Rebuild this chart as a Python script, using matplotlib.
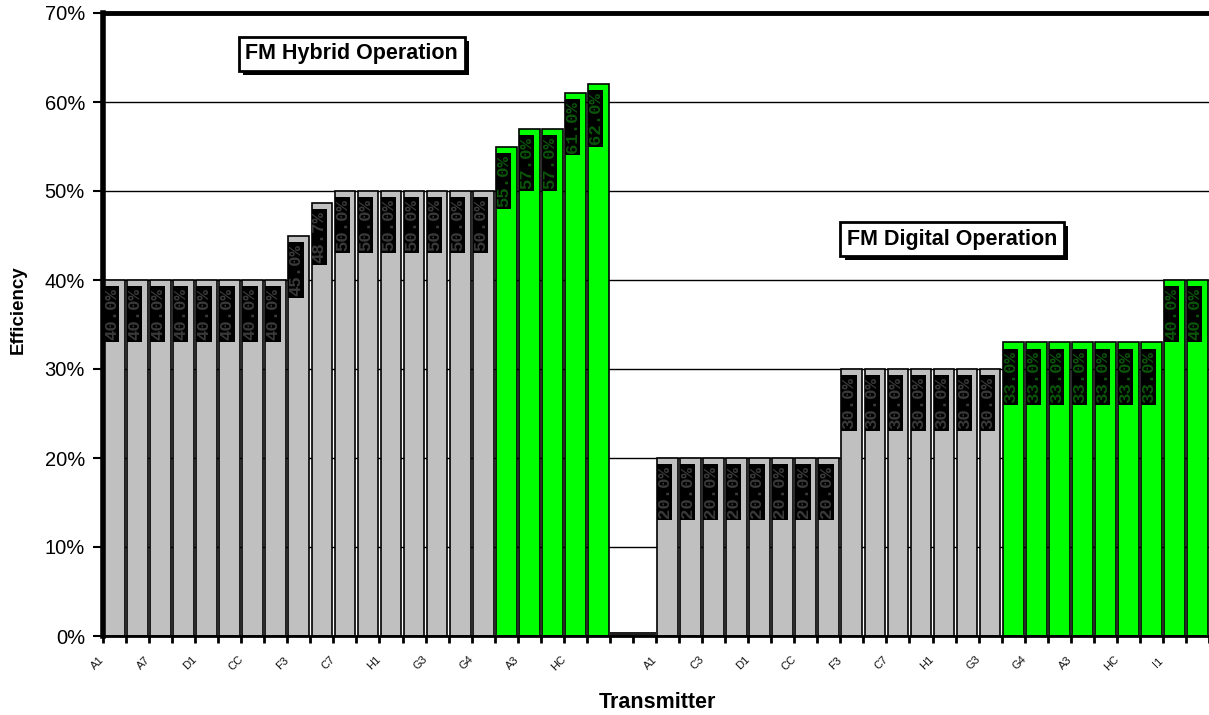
import numpy as np
import matplotlib
matplotlib.use("Agg")
import matplotlib.pyplot as plt
import matplotlib.patheffects as pe

plt.rcParams['font.family'] = ['Liberation Sans', 'DejaVu Sans']

# efficiency (%) per transmitter, FM hybrid operation
hybrid_gray = [40, 40, 40, 40, 40, 40, 40, 40, 45, 48.7, 50, 50, 50, 50, 50, 50, 50]
hybrid_green = [55, 57, 57, 61, 62]
# empty separator between the two groups
gap = [0.5, 0.5]
# FM digital operation
digital_gray = [20, 20, 20, 20, 20, 20, 20, 20, 30, 30, 30, 30, 30, 30, 30]
digital_green = [33, 33, 33, 33, 33, 33, 33, 40, 40]

hybrid_labels = ["A1", "A7", "D1", "CC", "F3", "C7", "H1", "G3", "G4", "A3", "HC"]
digital_labels = ["A1", "C3", "D1", "CC", "F3", "C7", "H1", "G3", "G4", "A3", "HC", "I1"]

GRAY, GREEN = "#C0C0C0", "#00FF00"

values = hybrid_gray + hybrid_green + gap + digital_gray + digital_green
colors = ([GRAY] * len(hybrid_gray) + [GREEN] * len(hybrid_green) + [None] * len(gap)
          + [GRAY] * len(digital_gray) + [GREEN] * len(digital_green))
x = np.arange(len(values))
n_hyb = len(hybrid_gray) + len(hybrid_green)
gap_x = x[n_hyb:n_hyb + len(gap)]
bar_x = np.array([i for i in x if colors[i] is not None])
bar_v = np.array([values[i] for i in bar_x])
bar_c = [colors[i] for i in bar_x]

fig, ax = plt.subplots(figsize=(12.09, 7.15), dpi=100)
fig.subplots_adjust(left=103 / 1209, right=1.0, bottom=79 / 715, top=1 - 13 / 715)

ax.bar(bar_x, bar_v, width=0.9, color=bar_c, edgecolor="black", linewidth=1.2, zorder=2)
ax.bar(gap_x, [values[i] for i in gap_x], width=1.0, color="#202020", zorder=2)

# black data label boxes near top of each bar
ax.bar(bar_x - 0.12, 6.3, bottom=bar_v - 7.0, width=0.66, color="black", zorder=3)
for xi, v, c in zip(bar_x, bar_v, bar_c):
    tc = "#3a3a3a" if c == GRAY else "#0b560b"
    ax.text(xi - 0.12, v - 3.85, f"{v:.1f}%", rotation=90, ha="center", va="center",
            fontsize=12.5, family="Liberation Mono", weight="bold", color=tc, zorder=4)

ax.set_xlim(-0.5, len(values) - 0.5)
ax.set_ylim(0, 70)
ax.set_yticks(range(0, 71, 10))
ax.set_yticklabels([f"{t}%" for t in range(0, 71, 10)])
ax.yaxis.grid(True, color="black", linewidth=1)
ax.set_axisbelow(True)
ax.set_xticks(np.arange(-0.5, len(values), 1))
ax.set_xticklabels([])
ax.tick_params(axis="x", length=5, width=2, direction="out")
ax.tick_params(axis="y", length=7, width=1.5, labelsize=14.5, pad=6)

ax.spines["right"].set_visible(False)
ax.spines["left"].set_linewidth(4)
ax.spines["top"].set_linewidth(3.5)
ax.spines["bottom"].set_linewidth(2)

# every second category gets a label
xt = ax.get_xaxis_transform()
for k, lab in enumerate(hybrid_labels):
    ax.text(2 * k - 0.72, -0.043, lab, transform=xt, rotation=45, ha="center",
            va="center", fontsize=8, color="#111111")
for k, lab in enumerate(digital_labels):
    ax.text(n_hyb + len(gap) + 2 * k - 0.72, -0.043, lab, transform=xt, rotation=45,
            ha="center", va="center", fontsize=8, color="#111111")

fig.text(18 / 1209, 1 - 310 / 715, "Efficiency", rotation=90, ha="center", va="center",
         fontsize=13.5, weight="bold")
fig.text(657 / 1209, 1 - 703 / 715, "Transmitter", ha="center", va="center",
         fontsize=15.5, weight="bold")

# text boxes with drop shadow
for tx, ty, s in [(10.3, 65.4, "FM Hybrid Operation"), (36.35, 44.6, "FM Digital Operation")]:
    t = ax.text(tx, ty, s, ha="center", va="center", fontsize=15.5, weight="bold", zorder=6,
                bbox=dict(boxstyle="square,pad=0.3", fc="white", ec="black", lw=2))
    t.get_bbox_patch().set_path_effects([
        pe.withSimplePatchShadow(offset=(3, -3), shadow_rgbFace="black", alpha=1.0)])

fig.savefig("out.png", dpi=100)
